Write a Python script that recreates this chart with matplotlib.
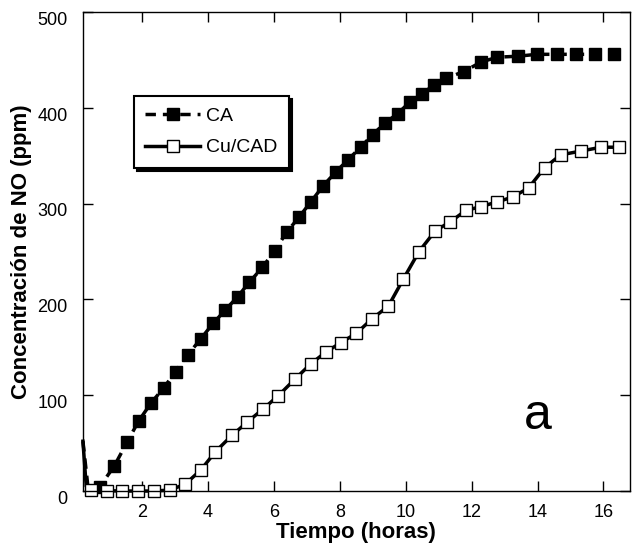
import numpy as np
import matplotlib
matplotlib.use("Agg")
import matplotlib.pyplot as plt
import matplotlib.transforms as mtransforms

plt.rcParams['font.family'] = ['Liberation Sans', 'DejaVu Sans']

# CA (filled squares, dashed line)
ca_t = [0.2, 0.35, 0.71, 1.15, 1.54, 1.89, 2.27, 2.66, 3.01, 3.38, 3.77, 4.15, 4.52,
        4.9, 5.25, 5.65, 6.02, 6.38, 6.76, 7.12, 7.5, 7.87, 8.25, 8.63, 8.99,
        9.36, 9.75, 10.12, 10.5, 10.86, 11.23, 11.76, 12.29, 12.78, 13.4,
        13.98, 14.6, 15.17, 15.75, 16.33]
ca_no = [52, 5, 4.5, 26, 51, 73, 92, 108, 124.5, 142, 158.6, 175, 189,
         203, 218, 233.5, 251, 270, 286, 302, 319, 333, 346, 359, 372,
         384, 394, 406, 415, 424, 431, 438, 448, 453, 454,
         456, 456, 456, 456, 456]

# Cu/CAD (open squares, solid line)
cu_t = [0.2, 0.3, 0.45, 0.93, 1.4, 1.87, 2.36, 2.83, 3.3, 3.78, 4.22, 4.72, 5.19,
        5.68, 6.13, 6.64, 7.11, 7.57, 8.03, 8.5, 8.98, 9.47, 9.92, 10.4,
        10.9, 11.35, 11.82, 12.29, 12.78, 13.25, 13.73, 14.21, 14.7, 15.32,
        15.93, 16.48]
cu_no = [52, 5, 1, 0.3, 0, 0, 0, 1, 7, 22, 41, 58, 72,
         86, 99.5, 117, 132.6, 145, 155, 164.6, 180, 193, 221, 250,
         272, 281, 293, 297, 302, 307, 316.6, 337.5, 351, 355,
         359, 359]

fig = plt.figure(figsize=(6.33, 5.46), dpi=100)
ax = fig.add_axes([0.131, 0.1007, 0.864, 0.877])

ax.plot(ca_t, ca_no, color='black', linestyle='--', linewidth=2.5, dashes=(3, 2),
        marker='s', markersize=9, markerfacecolor='black', markeredgecolor='black',
        markevery=slice(2, None), label='CA', clip_on=False)
ax.plot(cu_t, cu_no, color='black', linestyle='-', linewidth=2.5,
        marker='s', markersize=9, markerfacecolor='white', markeredgecolor='black',
        markeredgewidth=1.0, markevery=slice(2, None), label='Cu/CAD', clip_on=False)

ax.set_xlim(0.2, 16.8)
ax.set_ylim(0, 500)
ax.set_xticks(np.arange(2, 17, 2))
ax.set_yticks(np.arange(0, 501, 100))
ax.tick_params(direction='in', length=7, width=1, top=True, right=True, labelsize=13)
ax.tick_params(axis='x', pad=9)
ax.tick_params(axis='y', pad=11)
for s in ax.spines.values():
    s.set_linewidth(1)

# y tick labels sit a little below their ticks in the original
shift = mtransforms.ScaledTranslation(0, -4.5 / 72, fig.dpi_scale_trans)
for lbl in ax.get_yticklabels():
    lbl.set_transform(lbl.get_transform() + shift)

ax.set_xlabel('Tiempo (horas)', fontsize=16, fontweight='bold', labelpad=1)
ax.set_ylabel('Concentración de NO (ppm)', fontsize=16, fontweight='bold', labelpad=4)

ax.text(14.0, 78, 'a', fontsize=36, ha='center', va='center')

leg = ax.legend(loc='upper left', bbox_to_anchor=(0.093, 0.825), borderaxespad=0,
                fancybox=False, shadow={'color': 'black', 'alpha': 1}, edgecolor='black',
                framealpha=1, fontsize=14, handlelength=2.8, handletextpad=0.3,
                borderpad=0.6, labelspacing=0.7)
leg.get_frame().set_linewidth(1.5)

fig.savefig('out.png', dpi=100)
